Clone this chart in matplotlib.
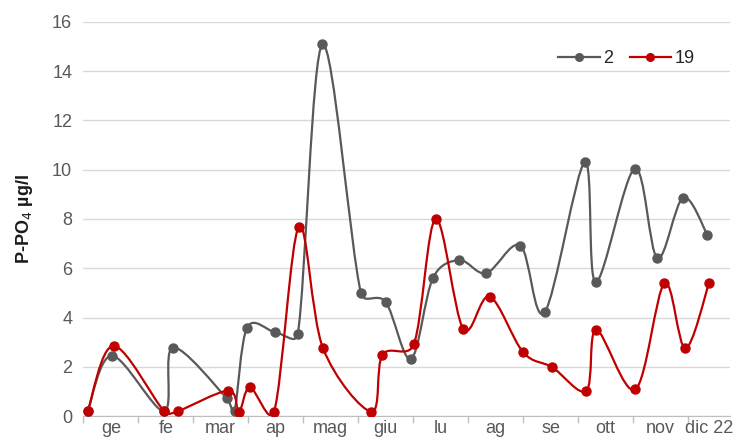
import matplotlib
matplotlib.use("Agg")
import matplotlib.pyplot as plt
import numpy as np
from matplotlib.path import Path
from matplotlib.patches import PathPatch
from matplotlib.lines import Line2D

plt.rcParams['font.family'] = ['Liberation Sans', 'DejaVu Sans']

# x positions in months from 1 Jan (month boundaries at integers)
x_2 = [0.08, 0.52, 1.47, 1.63, 2.61, 2.75, 2.98, 3.49, 3.90, 4.35, 5.05, 5.50,
       5.96, 6.36, 6.84, 7.33, 7.95, 8.39, 9.12, 9.32, 10.03, 10.44, 10.91, 11.35]
y_2 = [0.2, 2.45, 0.2, 2.78, 0.72, 0.2, 3.59, 3.4, 3.32, 15.08, 4.99, 4.63,
       2.32, 5.61, 6.33, 5.8, 6.92, 4.21, 10.3, 5.43, 10.04, 6.41, 8.86, 7.36]

x_19 = [0.08, 0.55, 1.47, 1.72, 2.64, 2.83, 3.03, 3.47, 3.92, 4.36, 5.24, 5.44,
        6.01, 6.41, 6.91, 7.39, 8.00, 8.53, 9.15, 9.33, 10.04, 10.57, 10.95, 11.38]
y_19 = [0.2, 2.85, 0.2, 0.2, 1.03, 0.18, 1.17, 0.18, 7.68, 2.75, 0.18, 2.48,
        2.91, 8.0, 3.54, 4.85, 2.59, 1.98, 1.03, 3.5, 1.08, 5.39, 2.75, 5.39]

months = ['ge', 'fe', 'mar', 'ap', 'mag', 'giu', 'lu', 'ag', 'se', 'ott', 'nov', 'dic 22']
x_end = 11.76

grey = '#595959'
red = '#c00000'

# approx. screen scale (px per unit) so smoothing is done like Excel, in screen space
sx, sy = 55.0, 24.6


def smooth_path(xs, ys, t=1 / 6):
    # Excel-like smoothed line: cubic Bezier, tangent offset capped at half the segment
    p = np.column_stack([np.array(xs) * sx, np.array(ys) * sy])
    n = len(p)
    verts = [p[0]]
    codes = [Path.MOVETO]
    for i in range(n - 1):
        p0 = p[i - 1] if i > 0 else p[i]
        p3 = p[i + 2] if i + 2 < n else p[i + 1]
        seg = np.linalg.norm(p[i + 1] - p[i])
        d1 = (p[i + 1] - p0) * t
        d2 = (p3 - p[i]) * t
        for d in (d1, d2):
            ln = np.linalg.norm(d)
            if ln > seg / 2 and ln > 0:
                d *= (seg / 2) / ln
        verts += [p[i] + d1, p[i + 1] - d2, p[i + 1]]
        codes += [Path.CURVE4] * 3
    verts = np.array(verts) / [sx, sy]
    return Path(verts, codes)


fig = plt.figure(figsize=(7.44, 4.45), dpi=100)
ax = fig.add_axes([0.112, 0.065, 0.869, 0.886])

for xs, ys, c in [(x_2, y_2, grey), (x_19, y_19, red)]:
    ax.add_patch(PathPatch(smooth_path(xs, ys), fill=False, edgecolor=c,
                           linewidth=1.6, zorder=3))
    ax.plot(xs, ys, linestyle='none', marker='o', markersize=6.5, color=c, zorder=4)

ax.set_xlim(0, x_end)
ax.set_ylim(0, 16)
ax.set_yticks(np.arange(0, 17, 2))
ax.yaxis.grid(True, color='#d9d9d9', linewidth=1)
ax.set_axisbelow(True)

ax.set_xticks(np.arange(0, 12))
ax.set_xticklabels([])
label_pos = [i + 0.5 for i in range(11)] + [(11 + x_end) / 2]
ax.set_xticks(label_pos, minor=True)
ax.set_xticklabels(months, minor=True)
ax.tick_params(axis='x', which='major', length=5, color='#bfbfbf', width=1)
ax.tick_params(axis='x', which='minor', length=0, labelsize=13, labelcolor=grey, pad=3)
ax.tick_params(axis='y', length=0, labelsize=13, labelcolor=grey, pad=8)

for s in ['top', 'right', 'left']:
    ax.spines[s].set_visible(False)
ax.spines['bottom'].set_color('#bfbfbf')

ax.set_ylabel('P-PO$_4$ µg/l', fontsize=13, color='#1a1a1a', fontweight='bold',
              labelpad=12)

handles = [Line2D([], [], color=grey, marker='o', markersize=5.5, linewidth=1.6),
           Line2D([], [], color=red, marker='o', markersize=5.5, linewidth=1.6)]
ax.legend(handles, ['2', '19'], loc='upper right', bbox_to_anchor=(0.971, 0.97),
          ncol=2, frameon=False, fontsize=13, handlelength=2.3,
          handletextpad=0.2, columnspacing=0.9, labelcolor='#262626')

fig.savefig('out.png', dpi=100)
